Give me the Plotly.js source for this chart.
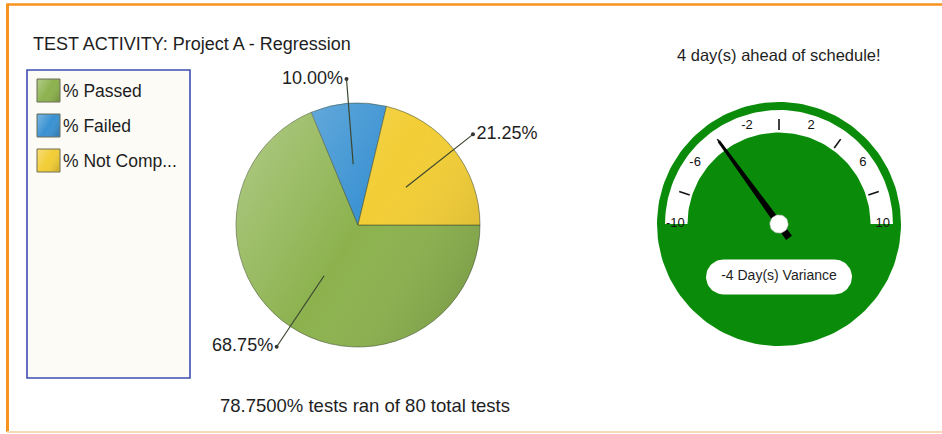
<!DOCTYPE html>
<html><head><meta charset="utf-8">
<script src="https://cdn.plot.ly/plotly-3.0.1.min.js"></script>
<style>html,body{margin:0;padding:0;background:#fff;} #chart{width:942px;height:434px;}</style>
</head><body><div id="chart"></div>
<script>
// ---- data ----
const chartTitle = "TEST ACTIVITY: Project A - Regression";
const categories = ["% Passed", "% Failed", "% Not Completed"];
const testCounts = [55, 8, 17];
const sliceColors = ["#8cb24e", "#3a92d2", "#f2cd35"];
const gaugeValue = -4;
const gaugeTickValues = [-10, -8, -6, -4, -2, 0, 2, 4, 6, 8, 10];
const gaugeTickLabels = ["-10", "", "-6", "", "-2", "", "2", "", "6", "", "10"];

// ---- layout helpers ----
const W = 942, H = 434;
const px = x => x / W;
const py = y => 1 - y / H;
const FONT = "Liberation Sans, Arial, sans-serif";
const TXT = "#1e1e1e";
const GREEN = "#0a8c0a";

const total = testCounts.reduce((a, b) => a + b, 0);
const pcts = testCounts.map(c => c / total * 100);
const ranPct = (testCounts[0] + testCounts[1]) / total * 100;

// pie geometry (pixels)
const pc = {x: 358, y: 225, r: 122};
const pieSpan = 1.6;
// gauge geometry (pixels)
const gc = {x: 779, y: 224, r: 122};
const gSpan = 1.15;

const traces = [];
const shapes = [];
const annotations = [];
const images = [];

// shading overlay (decoration only)
const shade = (shape) => "data:image/svg+xml;charset=utf-8," + encodeURIComponent(
  '<svg xmlns="http://www.w3.org/2000/svg" width="100" height="100" viewBox="0 0 100 100">' +
  '<defs><linearGradient id="g" x1="0" y1="0.2" x2="1" y2="0.8">' +
  '<stop offset="0" stop-color="#ffffff" stop-opacity="0.28"/>' +
  '<stop offset="0.5" stop-color="#ffffff" stop-opacity="0"/>' +
  '<stop offset="1" stop-color="#000000" stop-opacity="0.14"/></linearGradient></defs>' +
  shape + '</svg>');

// ---- pie ----
traces.push({
  type: "pie", labels: categories, values: testCounts, sort: false,
  direction: "clockwise", rotation: 90, textinfo: "none", hoverinfo: "skip",
  showlegend: false,
  marker: {colors: sliceColors, line: {color: "rgba(60,75,45,0.55)", width: 1}},
  domain: {x: [px(pc.x - pc.r), px(pc.x + pc.r)], y: [py(pc.y + pc.r), py(pc.y - pc.r)]}
});
images.push({source: shade('<circle cx="50" cy="50" r="50" fill="url(#g)"/>'),
  xref: "paper", yref: "paper", x: px(pc.x - pc.r), y: py(pc.y - pc.r),
  sizex: 2 * pc.r / W, sizey: 2 * pc.r / H, sizing: "stretch", xanchor: "left", yanchor: "top", layer: "above"});

// leader lines and labels (computed from slice angles)
let cum = 0;
const lx = [], ly = [], lt = [], lp = [];
testCounts.forEach((c, i) => {
  const mid = -(cum + c / 2) / total * 2 * Math.PI;
  cum += c;
  const cs = Math.cos(mid), sn = Math.sin(mid);
  shapes.push({type: "line", xref: "x", yref: "y", layer: "above",
    x0: 0.5 * cs, y0: 0.5 * sn, x1: 1.2 * cs, y1: 1.2 * sn,
    line: {color: "#3b4630", width: 1.2}});
  lx.push(1.2 * cs); ly.push(1.2 * sn);
  lt.push(pcts[i].toFixed(2) + "%");
  lp.push(cs > 0.1 ? "middle right" : "middle left");
});
traces.push({
  type: "scatter", mode: "markers+text", x: lx, y: ly, text: lt, textposition: lp,
  xaxis: "x", yaxis: "y", cliponaxis: false, hoverinfo: "skip", showlegend: false,
  marker: {size: 4, color: "#333"},
  textfont: {family: FONT, size: 18, color: TXT}
});

// ---- gauge ----
const ang = v => (90 - v / 10 * 90) * Math.PI / 180;
function arc(r, a0, a1, n) {
  const xs = [], ys = [];
  for (let k = 0; k <= n; k++) {
    const a = (a0 + (a1 - a0) * k / n) * Math.PI / 180;
    xs.push(r * Math.cos(a)); ys.push(r * Math.sin(a));
  }
  return [xs, ys];
}
const g2 = {xaxis: "x2", yaxis: "y2", hoverinfo: "skip", showlegend: false};
// disk
let d = arc(1, 0, 360, 160);
traces.push(Object.assign({type: "scatter", mode: "lines", x: d[0], y: d[1], fill: "toself",
  fillcolor: GREEN, line: {width: 0, color: GREEN}}, g2));
// white scale band
const o = arc(0.934, 0, 180, 90), inn = arc(0.75, 180, 0, 90);
traces.push(Object.assign({type: "scatter", mode: "lines", x: o[0].concat(inn[0]), y: o[1].concat(inn[1]),
  fill: "toself", fillcolor: "#ffffff", line: {width: 0, color: "#fff"}}, g2));
// tick marks (unlabelled values)
const tx = [], ty = [], labX = [], labY = [], labT = [];
gaugeTickValues.forEach((v, i) => {
  const a = ang(v);
  if (gaugeTickLabels[i] === "") {
    tx.push(0.77 * Math.cos(a), 0.86 * Math.cos(a), null);
    ty.push(0.77 * Math.sin(a), 0.86 * Math.sin(a), null);
  } else {
    labX.push(0.85 * Math.cos(a)); labY.push(0.85 * Math.sin(a)); labT.push(gaugeTickLabels[i]);
  }
});
traces.push(Object.assign({type: "scatter", mode: "lines", x: tx, y: ty, line: {color: "#111", width: 1.6}}, g2));
traces.push(Object.assign({type: "scatter", mode: "text", x: labX, y: labY, text: labT, cliponaxis: false,
  textposition: "middle center", textfont: {family: FONT, size: 13, color: "#111"}}, g2));
// needle
const a = ang(gaugeValue), ca = Math.cos(a), sa = Math.sin(a), nx = -sa, ny = ca;
const tail = -0.14, tip = 0.84, hwB = 0.03, hwT = 0.011;
traces.push(Object.assign({type: "scatter", mode: "lines", fill: "toself", fillcolor: "#000",
  line: {width: 0, color: "#000"},
  x: [tail * ca + hwB * nx, tip * ca + hwT * nx, tip * ca - hwT * nx, tail * ca - hwB * nx, tail * ca + hwB * nx],
  y: [tail * sa + hwB * ny, tip * sa + hwT * ny, tip * sa - hwT * ny, tail * sa - hwB * ny, tail * sa + hwB * ny]}, g2));
// hub
d = arc(0.075, 0, 360, 40);
traces.push(Object.assign({type: "scatter", mode: "lines", x: d[0], y: d[1], fill: "toself",
  fillcolor: "#fff", line: {width: 0.6, color: "#bbb"}}, g2));
// variance pill
const pcy = -0.434, hl = 0.455, hr = 0.143;
const r1 = arc(hr, -90, 90, 30), l1 = arc(hr, 90, 270, 30);
const pillX = r1[0].map(v => v + hl).concat(l1[0].map(v => v - hl));
const pillY = r1[1].map(v => v + pcy).concat(l1[1].map(v => v + pcy));
pillX.push(pillX[0]); pillY.push(pillY[0]);
traces.push(Object.assign({type: "scatter", mode: "lines", x: pillX, y: pillY, fill: "toself",
  fillcolor: "#fff", line: {width: 0, color: "#fff"}}, g2));
traces.push(Object.assign({type: "scatter", mode: "text", x: [0], y: [pcy],
  text: [gaugeValue + " Day(s) Variance"], textposition: "middle center",
  textfont: {family: FONT, size: 14, color: TXT}}, g2));

// ---- legend (manual) ----
shapes.push({type: "rect", xref: "paper", yref: "paper", layer: "below",
  x0: px(27), x1: px(190), y0: py(378), y1: py(70),
  line: {color: "#3d4db3", width: 1.6}, fillcolor: "#fdfbf6"});
categories.forEach((c, i) => {
  const top = 79 + 35 * i;
  shapes.push({type: "rect", xref: "paper", yref: "paper", layer: "below",
    x0: px(37), x1: px(60), y0: py(top + 23), y1: py(top),
    line: {color: "#6d6d5a", width: 1}, fillcolor: sliceColors[i]});
  images.push({source: shade('<rect x="0" y="0" width="100" height="100" fill="url(#g)"/>'),
    xref: "paper", yref: "paper", x: px(37.5), y: py(top + 0.5), sizex: 22 / W, sizey: 22 / H,
    sizing: "stretch", xanchor: "left", yanchor: "top", layer: "above"});
  annotations.push({xref: "paper", yref: "paper", x: px(61), y: py(top + 12), xanchor: "left", yanchor: "middle",
    showarrow: false, text: c.length > 10 ? c.slice(0, 10) + "..." : c,
    font: {family: FONT, size: 17.5, color: TXT}});
});

// ---- frame ----
shapes.push({type: "line", xref: "paper", yref: "paper", x0: px(7), x1: 1, y0: py(4.5), y1: py(4.5),
  line: {color: "#f7931e", width: 2.5}});
shapes.push({type: "line", xref: "paper", yref: "paper", x0: px(7.5), x1: px(7.5), y0: py(3.5), y1: py(432),
  line: {color: "#f7931e", width: 3}});
shapes.push({type: "line", xref: "paper", yref: "paper", x0: px(7), x1: 1, y0: py(432), y1: py(432),
  line: {color: "#f6dcb6", width: 2}});

// ---- texts ----
annotations.push({xref: "paper", yref: "paper", x: px(31), y: py(44), xanchor: "left", yanchor: "middle",
  showarrow: false, text: chartTitle, font: {family: FONT, size: 18, color: TXT}});
annotations.push({xref: "paper", yref: "paper", x: px(779), y: py(55), xanchor: "center", yanchor: "middle",
  showarrow: false, text: Math.abs(gaugeValue) + " day(s) " + (gaugeValue < 0 ? "ahead of" : "behind") + " schedule!",
  font: {family: FONT, size: 16.5, color: TXT}});
annotations.push({xref: "paper", yref: "paper", x: px(365), y: py(405), xanchor: "center", yanchor: "middle",
  showarrow: false, text: ranPct.toFixed(4) + "% tests ran of " + total + " total tests",
  font: {family: FONT, size: 18.5, color: TXT}});

const hidden = {visible: false, showgrid: false, zeroline: false, fixedrange: true};
const layout = {
  width: W, height: H, margin: {l: 0, r: 0, t: 0, b: 0},
  paper_bgcolor: "#fff", plot_bgcolor: "rgba(0,0,0,0)", showlegend: false,
  xaxis: Object.assign({domain: [px(pc.x - pieSpan * pc.r), px(pc.x + pieSpan * pc.r)], range: [-pieSpan, pieSpan]}, hidden),
  yaxis: Object.assign({domain: [py(pc.y + pieSpan * pc.r), py(pc.y - pieSpan * pc.r)], range: [-pieSpan, pieSpan]}, hidden),
  xaxis2: Object.assign({domain: [px(gc.x - gSpan * gc.r), px(gc.x + gSpan * gc.r)], range: [-gSpan, gSpan], anchor: "y2"}, hidden),
  yaxis2: Object.assign({domain: [py(gc.y + gSpan * gc.r), py(gc.y - gSpan * gc.r)], range: [-gSpan, gSpan], anchor: "x2"}, hidden),
  shapes: shapes, annotations: annotations, images: images
};
Plotly.newPlot("chart", traces, layout, {staticPlot: true, displayModeBar: false});
</script>
</body></html>
